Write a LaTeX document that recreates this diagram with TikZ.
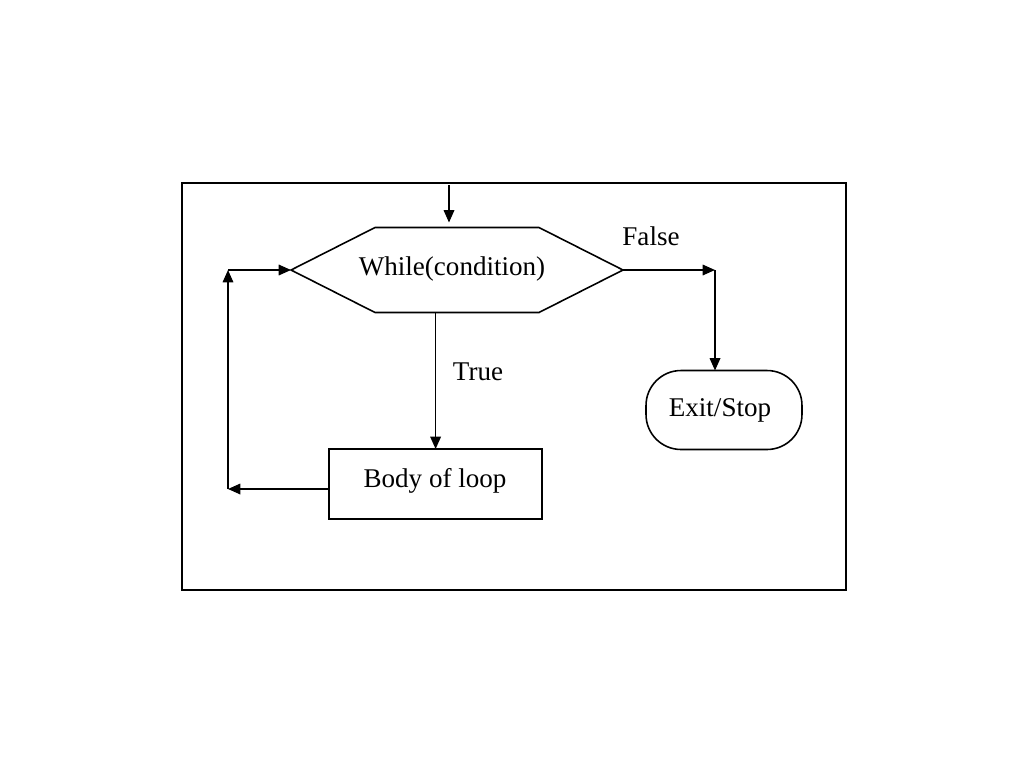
\documentclass[tikz,border=0pt]{standalone}
\usepackage{fontspec}
\setmainfont{Liberation Serif}
\usetikzlibrary{arrows.meta}

\begin{document}
\begin{tikzpicture}[x=0.02cm, y=-0.02cm, line width=0.9pt,
  font=\fontsize{15.4}{18}\selectfont,
  arr/.style={-{Triangle[length=7pt,width=6pt]}},
  testbox/.style={rectangle, minimum width=6.64cm, minimum height=1.7cm, inner sep=0pt, outer sep=0pt},
  block/.style={rectangle, draw, minimum width=4.26cm, minimum height=1.4cm, outer sep=0pt},
  stopbox/.style={rectangle, draw, rounded corners=0.7cm, minimum width=3.12cm, minimum height=1.58cm, outer sep=0pt}]
  \useasboundingbox (0,0) rectangle (1024,768);
  \draw (182,183) rectangle (846,590);

  \node[testbox] (cond) at (457,270) {};
  \draw ([xshift=1.68cm]cond.north west) -- ([xshift=-1.68cm]cond.north east) -- (cond.east)
    -- ([xshift=-1.68cm]cond.south east) -- ([xshift=1.68cm]cond.south west) -- (cond.west) -- cycle;
  \node (condtext) at (452,269) {While(condition)};
  \node[block] (body) at (435.6,484) {};
  \node (bodytext) at (435,481) {Body of loop};
  \node[stopbox] (exit) at (724,410) {};
  \node (exittext) at (720,410) {Exit/Stop};

  \coordinate (entry) at (449,185);
  \coordinate (lb) at (228,489);
  \coordinate (lt) at (228,270);
  \coordinate (fk) at (715,270);

  \draw[arr, shorten >=0.1cm] (entry) -- (entry |- cond.north);
  \draw[arr] (cond.south -| body.north) -- (body.north);
  \draw[arr] (lb -| body.west) -- (lb);
  \draw[arr] (lb) -- (lt);
  \draw[arr] (lt) -- (cond.west);
  \draw[arr] (cond.east) -- (fk);
  \draw[arr] (fk) -- (fk |- exit.north);

  \node (truelbl) at (478,372) {True};
  \node (falselbl) at (651,236) {False};
\end{tikzpicture}
\end{document}
